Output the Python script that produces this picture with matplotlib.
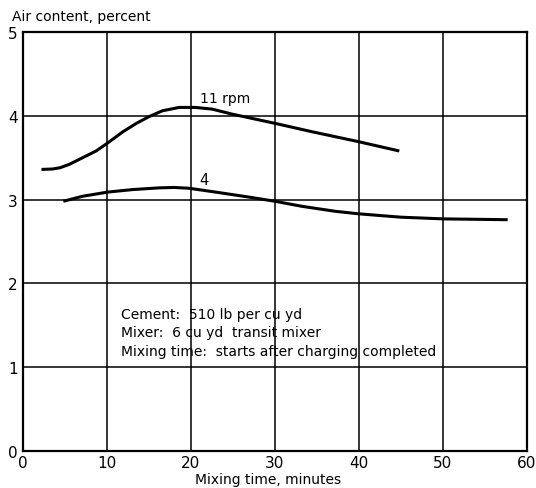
import matplotlib
matplotlib.use("Agg")
import matplotlib.pyplot as plt

# Data
rpm11_x = [2.2, 3.5, 4.4, 5.5, 6.7, 8.7, 10.0, 11.9, 13.5, 15.0, 16.6, 18.6, 20.5, 22.5, 24.9, 30.0, 34.4, 40.0, 44.8]
rpm11_y = [3.36, 3.365, 3.38, 3.42, 3.48, 3.58, 3.67, 3.81, 3.91, 3.99, 4.06, 4.10, 4.10, 4.08, 4.02, 3.91, 3.81, 3.69, 3.58]

rpm4_x = [4.8, 7.1, 10.1, 13.1, 16.2, 18.0, 19.8, 22.9, 26.9, 30.0, 33.2, 37.2, 40.0, 45.0, 50.0, 57.7]
rpm4_y = [2.98, 3.04, 3.09, 3.12, 3.14, 3.145, 3.135, 3.09, 3.03, 2.98, 2.92, 2.86, 2.83, 2.79, 2.77, 2.76]

x_ticks = [0, 10, 20, 30, 40, 50, 60]
y_ticks = [0, 1, 2, 3, 4, 5]

notes = ["Cement:  510 lb per cu yd",
         "Mixer:  6 cu yd  transit mixer",
         "Mixing time:  starts after charging completed"]
note_y = [1.63, 1.42, 1.19]

fig = plt.figure(figsize=(5.36, 4.89), dpi=100)
ax = fig.add_axes([23/536, 1 - 452/489, (527-23)/536, (452-33)/489])

ax.set_xlim(0, 60)
ax.set_ylim(0, 5)
ax.set_xticks(x_ticks)
ax.set_yticks(y_ticks)
ax.tick_params(length=0, labelsize=11)
ax.tick_params(axis="x", pad=3)
ax.tick_params(axis="y", pad=4)
ax.grid(True, color="black", linewidth=1.1)
ax.set_axisbelow(True)
for s in ax.spines.values():
    s.set_linewidth(1.6)

ax.plot(rpm11_x, rpm11_y, color="black", linewidth=2.2, solid_capstyle="butt", solid_joinstyle="round")
ax.plot(rpm4_x, rpm4_y, color="black", linewidth=2.2, solid_capstyle="butt", solid_joinstyle="round")

ax.text(21.1, 4.21, "11 rpm", fontsize=10, ha="left", va="center")
ax.text(21.0, 3.24, "4", fontsize=10.5, ha="left", va="center")

for t, yy in zip(notes, note_y):
    ax.text(11.7, yy, t, fontsize=10, ha="left", va="center")

fig.text(268/536, 1 - 480/489, "Mixing time, minutes", fontsize=10, ha="center", va="center")
fig.text(12/536, 1 - 17/489, "Air content, percent", fontsize=10, ha="left", va="center")

fig.savefig("out.png", dpi=100)
